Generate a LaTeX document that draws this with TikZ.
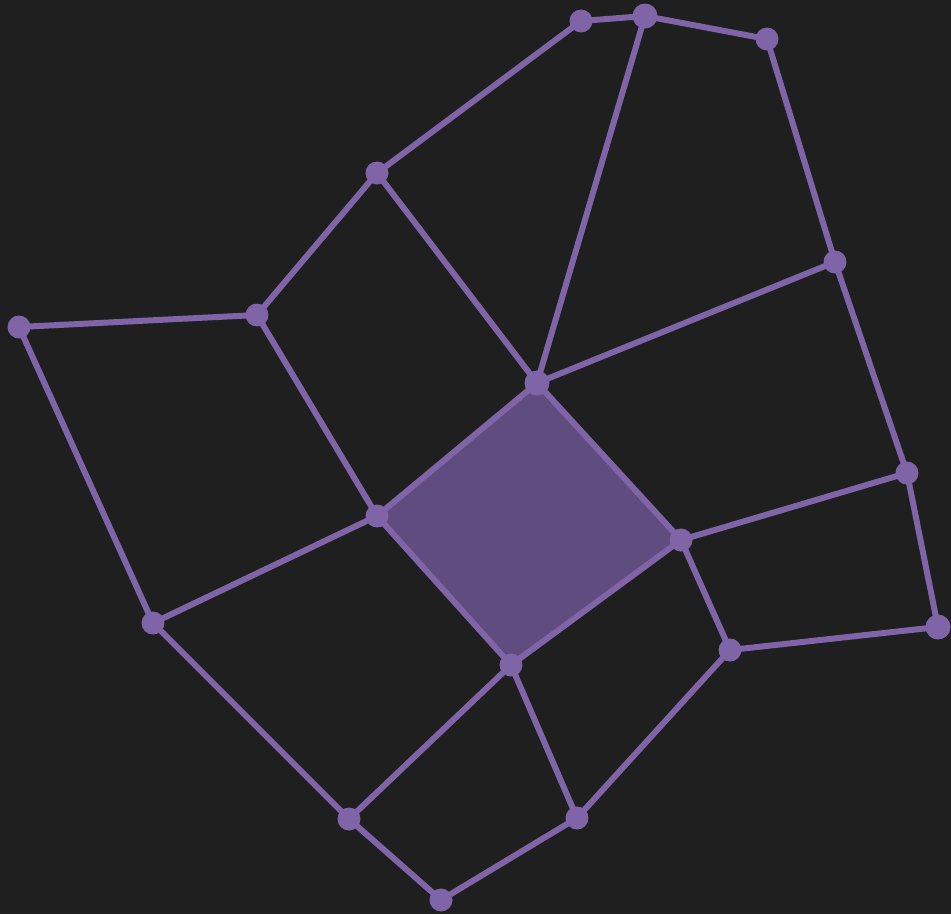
\documentclass[tikz,border=0pt]{standalone}
\usetikzlibrary{backgrounds}
\definecolor{cbg}{HTML}{1F1F1F}
\definecolor{cpurple}{HTML}{8064A8}
\definecolor{cface}{HTML}{604C7E}
\pgfdeclarelayer{edges}
\pgfsetlayers{background,edges,main}
\tikzset{
  vtx/.style={circle, fill=cpurple, inner sep=0pt, minimum size=0.46cm},
  bigvtx/.style={vtx, minimum size=0.5cm},
  edge/.style={draw=cpurple, line width=3.4pt, line cap=round, line join=round},
}

\begin{document}
\begin{tikzpicture}[x=0.02cm, y=-0.02cm]
  \useasboundingbox (0,0) rectangle (951,914);
  % vertices
  \foreach \n/\x/\y in {a/581/21, c/767/39, d/377/173, e/835/262, f/257/315,
      g/19/327, i/907/473, j/377/516, k/681/540, l/153/623, n/730/650,
      o/511/665, p/349/819, q/577/818, r/441/900}
    \node[vtx] (\n) at (\x,\y) {};
  \foreach \n/\x/\y in {b/645/16, h/537/383, m/938/627}
    \node[bigvtx] (\n) at (\x,\y) {};
  % background and inner face
  \begin{scope}[on background layer]
    \fill[cbg] (0,0) rectangle (951,914);
    \fill[cface] (h.center) -- (k.center) -- (o.center) -- (j.center) -- cycle;
  \end{scope}
  % edges
  \begin{pgfonlayer}{edges}
    \foreach \u/\v in {a/b, b/c, a/d, d/f, f/g, g/l, c/e, e/i, i/m, m/n,
        n/q, q/r, r/p, p/l, l/j, j/f, d/h, b/h, h/e, h/k, h/j, j/o,
        o/k, k/i, k/n, o/p, o/q}
      \draw[edge] (\u.center) -- (\v.center);
  \end{pgfonlayer}
\end{tikzpicture}
\end{document}
